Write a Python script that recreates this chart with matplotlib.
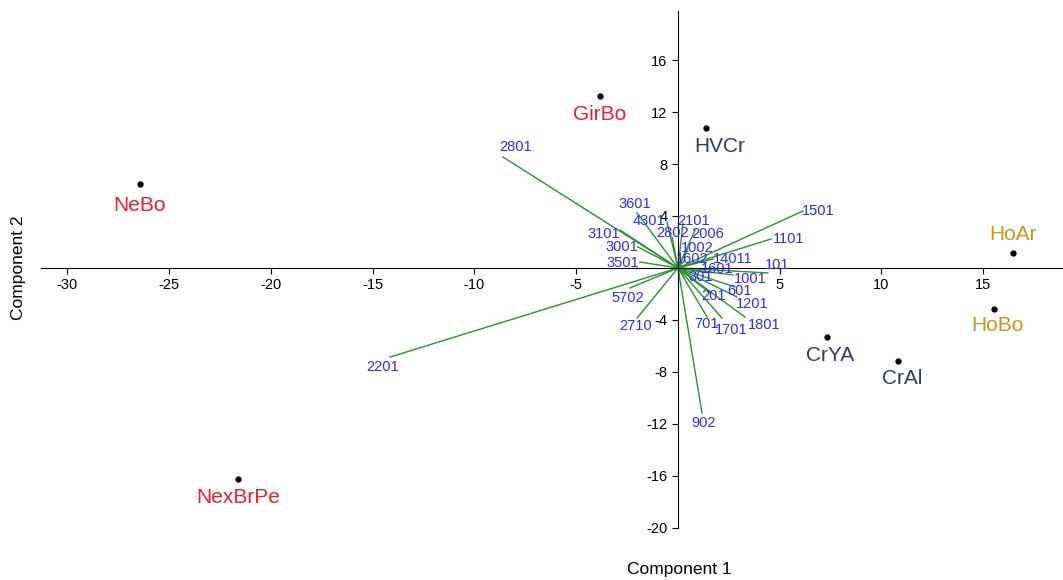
import matplotlib
matplotlib.use('Agg')
import matplotlib.pyplot as plt
from matplotlib.ticker import MultipleLocator, FuncFormatter

plt.rcParams['font.family'] = ['Liberation Sans', 'DejaVu Sans']

# sites (scores)
sites = ['NeBo', 'NexBrPe', 'GirBo', 'HVCr', 'HoAr', 'HoBo', 'CrYA', 'CrAl']
site_x = [-26.44, -21.62, -3.83, 1.38, 16.46, 15.53, 7.32, 10.81]
site_y = [6.46, -16.23, 13.23, 10.77, 1.15, -3.15, -5.31, -7.15]
site_group = ['red', 'red', 'red', 'navy', 'gold', 'gold', 'navy', 'navy']

# variables (loadings)
var_names = ['2801', '2201', '902', '1501', '1101', '101', '14011', '1001',
             '601', '1201', '1801', '1701', '701', '201', '301', '1601',
             '1602', '1002', '2006', '2101', '2802', '4301', '3601', '3101',
             '3001', '3501', '5702', '2710']
var_x = [-8.60, -14.15, 1.18, 6.14, 4.57, 4.42, 1.72, 2.70,
         2.80, 2.90, 3.29, 2.16, 1.43, 1.57, 0.74, 1.23,
         0.34, 0.49, 0.84, 0.25, -0.29, -0.54, -2.01, -2.85,
         -1.97, -1.87, -2.36, -2.01]
var_y = [8.54, -6.85, -11.15, 4.38, 2.23, -0.38, 0.69, -0.54,
         -1.46, -2.23, -3.77, -3.85, -3.77, -1.92, -0.77, -0.31,
         0.62, 1.54, 2.92, 3.46, 2.38, 3.54, 4.23, 2.92,
         1.62, 0.46, -1.54, -3.85]

colors = {'red': '#F01E28', 'navy': '#2E3D66', 'gold': '#C8961E'}

# label offsets in pixels (right, down)
site_off = {'NeBo': (0, 21), 'NexBrPe': (0, 19), 'GirBo': (0, 18),
            'HVCr': (14, 19), 'HoAr': (0, -19), 'HoBo': (3, 17),
            'CrYA': (3, 18), 'CrAl': (4, 18)}
var_off = {'2801': (13, -10), '2201': (-7, 10), '902': (2, 10),
           '1501': (15, 0), '1101': (18, 0), '101': (9, -8),
           '14011': (20, 0), '1001': (17, 4), '601': (5, 4),
           '1201': (15, 7), '1801': (19, 8), '1701': (9, 12),
           '701': (-1, 7), '201': (4, 3), '301': (8, -1),
           '1601': (14, -3), '1602': (7, -1), '1002': (9, 0),
           '2006': (13, 4), '2101': (11, -2), '2802': (0, -4),
           '4301': (-18, -1), '3601': (-2, -9), '3101': (-16, 4),
           '3001': (-16, 0), '3501': (-17, 1), '5702': (-2, 10),
           '2710': (-2, 8)}

px = 0.72  # points per pixel at dpi 100

fig = plt.figure(figsize=(10.63, 5.8), dpi=100)
ax = fig.add_axes([0.0386, 0.0897, 0.961, 0.892])

for name, vx, vy in zip(var_names, var_x, var_y):
    ax.plot([0, vx], [0, vy], color='#2A922A', lw=1.0, zorder=2)
    dx, dy = var_off[name]
    ax.annotate(name, (vx, vy), xytext=(dx * px, -dy * px), textcoords='offset points',
                ha='center', va='center', color='#2B2BFF', fontsize=10.5, zorder=4)

for name, sx, sy, g in zip(sites, site_x, site_y, site_group):
    ax.plot(sx, sy, 'o', color='black', ms=3.5, zorder=5)
    dx, dy = site_off[name]
    ax.annotate(name, (sx, sy), xytext=(dx * px, -dy * px), textcoords='offset points',
                ha='center', va='center', color=colors[g], fontsize=15, zorder=5)

ax.set_xlim(-31.3, 18.9)
ax.set_ylim(-20, 19.8)

for s in ['top', 'right']:
    ax.spines[s].set_visible(False)
ax.spines['left'].set_position(('data', 0))
ax.spines['bottom'].set_position(('data', 0))
ax.spines['left'].set_bounds(-20, 19.8)

ax.xaxis.set_major_locator(MultipleLocator(5))
ax.yaxis.set_major_locator(MultipleLocator(4))
nozero = FuncFormatter(lambda v, p: '' if abs(v) < 1e-9 else '%d' % v)
ax.xaxis.set_major_formatter(nozero)
ax.yaxis.set_major_formatter(nozero)
ax.tick_params(axis='both', labelsize=10.5, length=4, direction='out', color='black')

fig.text(0.639, 0.018, 'Component 1', ha='center', va='center', fontsize=12.5)
fig.text(0.017, 0.538, 'Component 2', ha='center', va='center', fontsize=12.5, rotation=90)

fig.savefig('out.png', dpi=100)
